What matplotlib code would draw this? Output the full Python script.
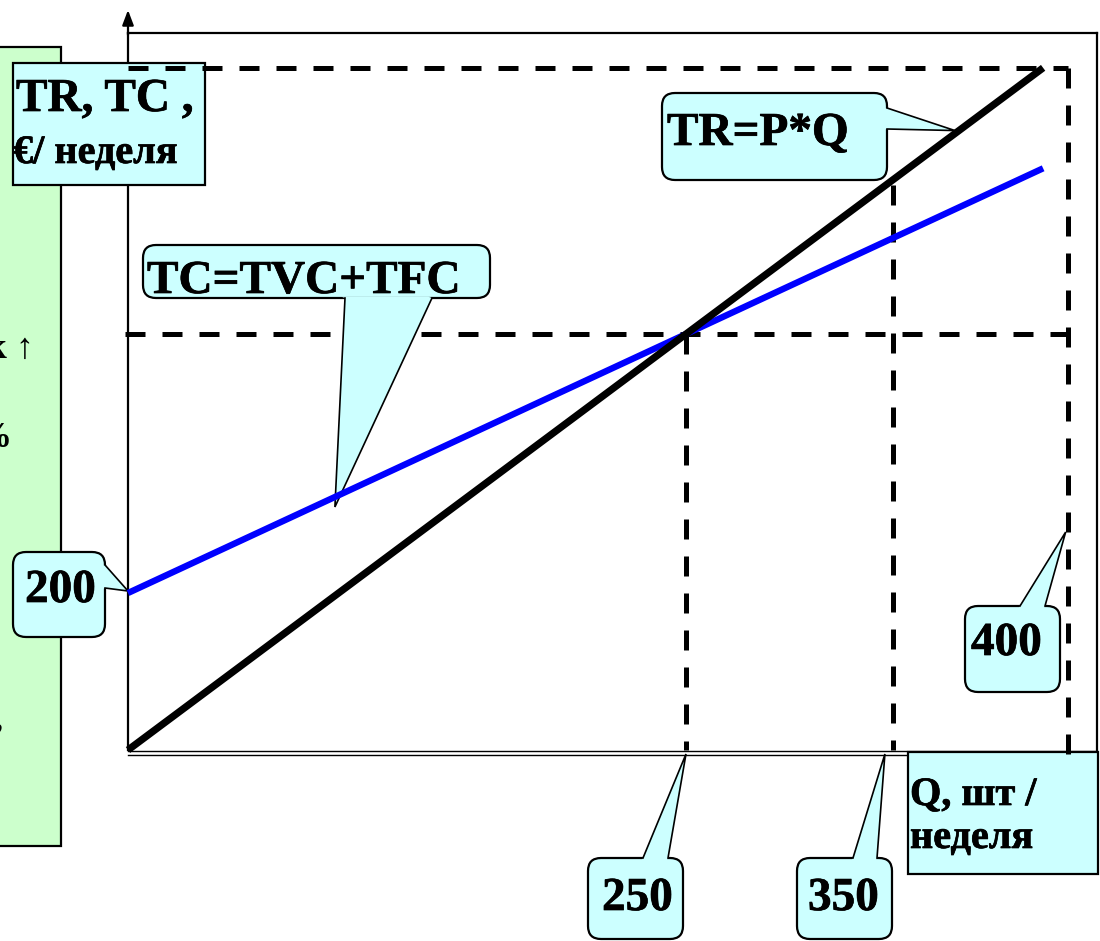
import matplotlib
matplotlib.use("Agg")
import matplotlib.pyplot as plt
import matplotlib.patheffects as pe
from matplotlib.patches import FancyBboxPatch, Polygon, Rectangle
from matplotlib.transforms import Affine2D
import numpy as np

# ---------------- data (schematic break-even chart) ----------------
q_line = [0, 410]            # output range drawn for both lines
tr_values = [0, 869]         # TR = P*Q
tc_values = [200, 741]       # TC = TVC + TFC (TFC = 200)
q_breakeven = 250
v_breakeven = 530
q_mid = 342.7                # position of the "350" marker
q_max = 421                  # position of the "400" marker
v_top = 869                  # top dashed guide (max revenue)
q_labels = ["250", "350", "400"]
fixed_cost_label = "200"
tr_label = "TR=P*Q"
tc_label = "TC=TVC+TFC"
y_title = ["TR, TC ,", "€/ неделя"]
x_title = ["Q, шт /", "неделя"]
side_texts = ["к ↑", "%", ","]

W, H = 1100, 941
fig = plt.figure(figsize=(W / 100, H / 100), dpi=100)
fig.patch.set_facecolor("white")

# data axes: origin at pixel (128, 750), top-right at (1097, 33)
L, R, T, B = 128, 1097, 33, 750
ax = fig.add_axes([L / W, 1 - B / H, (R - L) / W, (B - T) / H])
sx, sy = 2.232, 0.785
ax.set_xlim(0, (R - L) / sx)
ax.set_ylim(0, (B - T) / sy)
ax.set_autoscale_on(False)
ax.set_xticks([]); ax.set_yticks([])
ax.patch.set_alpha(0)
for s in ["top", "right", "left"]:
    ax.spines[s].set_linewidth(1.6)
    ax.spines[s].set_zorder(1)
ax.spines["bottom"].set_visible(False)

px = Affine2D().scale(1 / W, -1 / H).translate(0, 1) + fig.transFigure


def to_px(q, v):
    dx, dy = ax.transData.transform((q, v))
    return dx, H - dy


FONT = ["Liberation Serif", "DejaVu Serif"]
CYAN = "#ccffff"
BOLDER = [pe.Stroke(linewidth=0.5, foreground="black"), pe.Normal()]

# green side panel (partly cut off at the left edge)
ax.add_patch(Rectangle((-5, 47), 66, 799, transform=px, facecolor="#ccffcc",
                       edgecolor="black", lw=1.6, zorder=0.5, clip_on=False))
for s, x, y in zip(side_texts, [34, 11, 3], [358, 447, 728]):
    ax.text(x, y, s, transform=px, ha="right", va="baseline", fontsize=26,
            fontweight="bold", family=FONT, color="black", zorder=0.6, clip_on=False)

# bottom double axis line
for yy in (751, 755):
    ax.plot([L, R], [yy, yy], color="black", lw=1.0, transform=px, clip_on=False, zorder=1)
# y axis arrow
ax.annotate("", xy=(L, 10), xytext=(L, T + 2), xycoords=px, textcoords=px,
            arrowprops=dict(arrowstyle="-|>,head_length=0.45,head_width=0.17",
                            color="black", lw=1.6, mutation_scale=20, shrinkA=0, shrinkB=0),
            zorder=1, annotation_clip=False)

# ---------------- boxes / callouts ----------------
def put_text(lines, z):
    for s, x, y, fs in lines:
        ax.text(x, y, s, transform=px, ha="left", va="baseline", fontsize=fs,
                fontweight="bold", family=FONT, zorder=z + 0.3, clip_on=False,
                path_effects=BOLDER)


def rect_box(x0, y0, x1, y1, lines, z):
    ax.add_patch(Rectangle((x0, y0), x1 - x0, y1 - y0, transform=px, facecolor=CYAN,
                           edgecolor="black", lw=1.6, zorder=z, clip_on=False))
    put_text(lines, z)


def callout(box, base, tip, lines, z=4):
    x0, y0, x1, y1 = box
    ax.add_patch(FancyBboxPatch((x0, y0), x1 - x0, y1 - y0,
                                boxstyle="round,pad=0,rounding_size=13", transform=px,
                                facecolor=CYAN, edgecolor="black", lw=1.6, zorder=z,
                                clip_on=False))
    (b1, b2) = base
    cx, cy = (x0 + x1) / 2, (y0 + y1) / 2
    mx, my = (b1[0] + b2[0]) / 2, (b1[1] + b2[1]) / 2
    d = np.array([cx - mx, cy - my]); d = d / np.hypot(*d) * 4
    poly = [(b1[0] + d[0], b1[1] + d[1]), b1, tip, b2, (b2[0] + d[0], b2[1] + d[1])]
    ax.add_patch(Polygon(poly, closed=True, transform=px, facecolor=CYAN,
                         edgecolor="none", zorder=z + 0.1, clip_on=False))
    ax.plot([b1[0], tip[0], b2[0]], [b1[1], tip[1], b2[1]], color="black", lw=1.2,
            transform=px, zorder=z + 0.2, clip_on=False, solid_joinstyle="miter")
    put_text(lines, z)


# axis title box (drawn under the top dashed guide)
rect_box(13, 63, 205, 185, [(y_title[0], 16, 111, 34), (y_title[1], 13, 163, 29)], z=2)

# dashed guides
dash = dict(color="black", lw=3.6, ls=(0, (4, 3.4)), zorder=3, clip_on=False,
            solid_capstyle="butt", dash_capstyle="butt")
ax.plot([0, q_max], [v_top, v_top], **dash)
ax.plot([-1.5, q_max], [v_breakeven, v_breakeven], **dash)
ax.plot([q_breakeven, q_breakeven], [v_breakeven, 0], **dash)
tr_at_mid = np.interp(q_mid, q_line, tr_values)
ax.plot([q_mid, q_mid], [tr_at_mid - 6, 0], **dash)
ax.plot([q_max, q_max], [v_top, -6.5], **dash)

# x title box
rect_box(908, 752, 1098, 874, [(x_title[0], 910, 805, 29), (x_title[1], 910, 848, 29)], z=2.5)

# callouts
q_tc_tip = 92.7
tcx, tcy = to_px(q_tc_tip, np.interp(q_tc_tip, q_line, tc_values))
callout((143, 245, 490, 298), ((345, 298), (432, 298)), (tcx, tcy + 10),
        [(tc_label, 147, 293, 34)])
q_tr_tip = 370.5
trx, try_ = to_px(q_tr_tip, np.interp(q_tr_tip, q_line, tr_values))
callout((662, 93, 887, 180), ((887, 108), (887, 129)), (trx, try_ - 3),
        [(tr_label, 667, 145, 34)])
fx, fy = to_px(0, tc_values[0])
callout((13, 552, 105, 637), ((105, 565), (105, 588)), (fx, fy - 2),
        [(fixed_cost_label, 25, 602, 34)])
mx4, _ = to_px(q_max, 0)
callout((965, 606, 1060, 692), ((1020, 606), (1045, 606)), (mx4 - 2, 532),
        [(q_labels[2], 971, 655, 34)])
bx, by = to_px(q_breakeven, 0)
callout((588, 858, 683, 939), ((643, 858), (668, 858)), (bx, by + 4),
        [(q_labels[0], 602, 910, 34)])
mx3, my3 = to_px(q_mid, 0)
callout((797, 858, 892, 939), ((853, 858), (877, 858)), (mx3 - 8, my3 + 4),
        [(q_labels[1], 808, 910, 34)])

# main lines
ax.plot(q_line, tc_values, color="#0000ff", lw=4.6, zorder=5, solid_capstyle="butt",
        clip_on=False)
ax.plot(q_line, tr_values, color="black", lw=5.2, zorder=5.5, solid_capstyle="butt",
        clip_on=False)

fig.savefig("out.png", dpi=100, facecolor="white")
